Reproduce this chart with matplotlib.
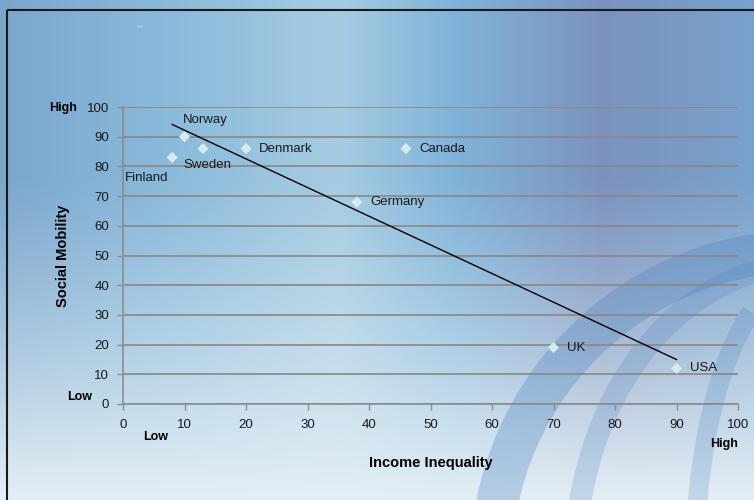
import numpy as np
import matplotlib.pyplot as plt
from matplotlib.patches import Wedge, Rectangle, Arc

plt.rcParams['font.family'] = ['Liberation Sans', 'DejaVu Sans']

# data
countries = ['Finland', 'Norway', 'Sweden', 'Denmark', 'Canada', 'Germany', 'UK', 'USA']
inequality = [8, 10, 13, 20, 46, 38, 70, 90]
mobility = [83, 90, 86, 86, 86, 68, 19, 12]
x_ticks = list(range(0, 101, 10))
y_ticks = list(range(0, 101, 10))

# label offsets (points) for each country
offsets = [(-34, -15), (-1, 12), (-14, -12), (9.5, 0), (9.5, 0), (9.5, 0), (9.5, 0), (9.5, 0)]

fig = plt.figure(figsize=(7.54, 5), dpi=100)
w, h = 754, 500

# background gradient, drawn in pixel coords
bg = fig.add_axes([0, 0, 1, 1], zorder=0)
bg.set_axis_off()
xs = np.linspace(0, 1, w)
stops_x = [0.0, 0.2, 0.45, 0.6, 0.8, 1.0]
r_s = [0x7c, 0x88, 0xa6, 0x80, 0x7c, 0x78]
g_s = [0xa6, 0xb8, 0xcc, 0xb4, 0x92, 0xa2]
b_s = [0xcc, 0xda, 0xe2, 0xda, 0xbe, 0xcc]
top = np.stack([np.interp(xs, stops_x, r_s), np.interp(xs, stops_x, g_s),
                np.interp(xs, stops_x, b_s)], axis=-1) / 255.0
bottom = np.array([0xe4, 0xef, 0xf5]) / 255.0
ys = np.linspace(0, 1, h)[:, None, None]
t = np.clip((ys - 0.35) / 0.65, 0, 1) ** 1.2
img = top[None, :, :] * (1 - t) + bottom[None, None, :] * t
bg.imshow(img, aspect='auto', extent=[0, w, h, 0])
bg.set_xlim(0, w)
bg.set_ylim(h, 0)

# faint globe in the bottom-right corner
gc = (805, 565)
bg.add_patch(Wedge(gc, 335, 180, 275, width=42, facecolor='#4a80bd', alpha=0.3,
                   edgecolor='none'))
bg.add_patch(Arc(gc, 2 * 230, 2 * 300, theta1=180, theta2=262, color='#4a80bd',
                 alpha=0.22, linewidth=16))
bg.add_patch(Arc(gc, 2 * 110, 2 * 290, theta1=180, theta2=258, color='#4a80bd',
                 alpha=0.22, linewidth=14))

# outer frame
bg.add_patch(Rectangle((7, 10), w + 20, h + 20, fill=False, edgecolor='#1a1a1a',
                       linewidth=1.5))
bg.text(140, 26, '\u2013', color='#d0f0e0', fontsize=7, ha='center', va='center')

ax = fig.add_axes([123 / w, 1 - 404 / h, (738 - 123) / w, (404 - 107) / h], zorder=1)
ax.patch.set_alpha(0)

ax.set_xlim(0, 100)
ax.set_ylim(0, 100)
ax.set_xticks(x_ticks)
ax.set_yticks(y_ticks)
ax.grid(axis='y', color='#8c8682', linewidth=1.2)
ax.set_axisbelow(True)
for s in ['top', 'right']:
    ax.spines[s].set_visible(False)
for s in ['left', 'bottom']:
    ax.spines[s].set_color('#8c8c8c')
    ax.spines[s].set_linewidth(1.2)
ax.tick_params(colors='#8c8c8c', labelcolor='#1a1a1a', labelsize=9.5, length=4, width=1)
ax.tick_params(axis='x', pad=7)
ax.tick_params(axis='y', pad=6)

# trend line (least squares fit)
k, b0 = np.polyfit(inequality, mobility, 1)
xl = np.array([min(inequality), max(inequality)])
ax.plot(xl, k * xl + b0, color='black', linewidth=1, zorder=3)

ax.scatter(inequality, mobility, marker='D', s=32, color='#d6ecec', edgecolors='none', zorder=4)
for c, xv, yv, off in zip(countries, inequality, mobility, offsets):
    ax.annotate(c, (xv, yv), xytext=off, textcoords='offset points',
                fontsize=9.5, color='#1a1a1a', va='center', ha='left')

ax.set_xlabel('Income Inequality', fontsize=10.5, fontweight='bold', labelpad=18)
ax.set_ylabel('Social Mobility', fontsize=10.5, fontweight='bold', labelpad=12)

fig.text(63 / w, 1 - 108 / h, 'High', fontsize=9, fontweight='bold', ha='center', va='center')
fig.text(80 / w, 1 - 397 / h, 'Low', fontsize=9, fontweight='bold', ha='center', va='center')
fig.text(156 / w, 1 - 437 / h, 'Low', fontsize=9, fontweight='bold', ha='center', va='center')
fig.text(724 / w, 1 - 444 / h, 'High', fontsize=9, fontweight='bold', ha='center', va='center')

fig.savefig('out.png', dpi=100)
